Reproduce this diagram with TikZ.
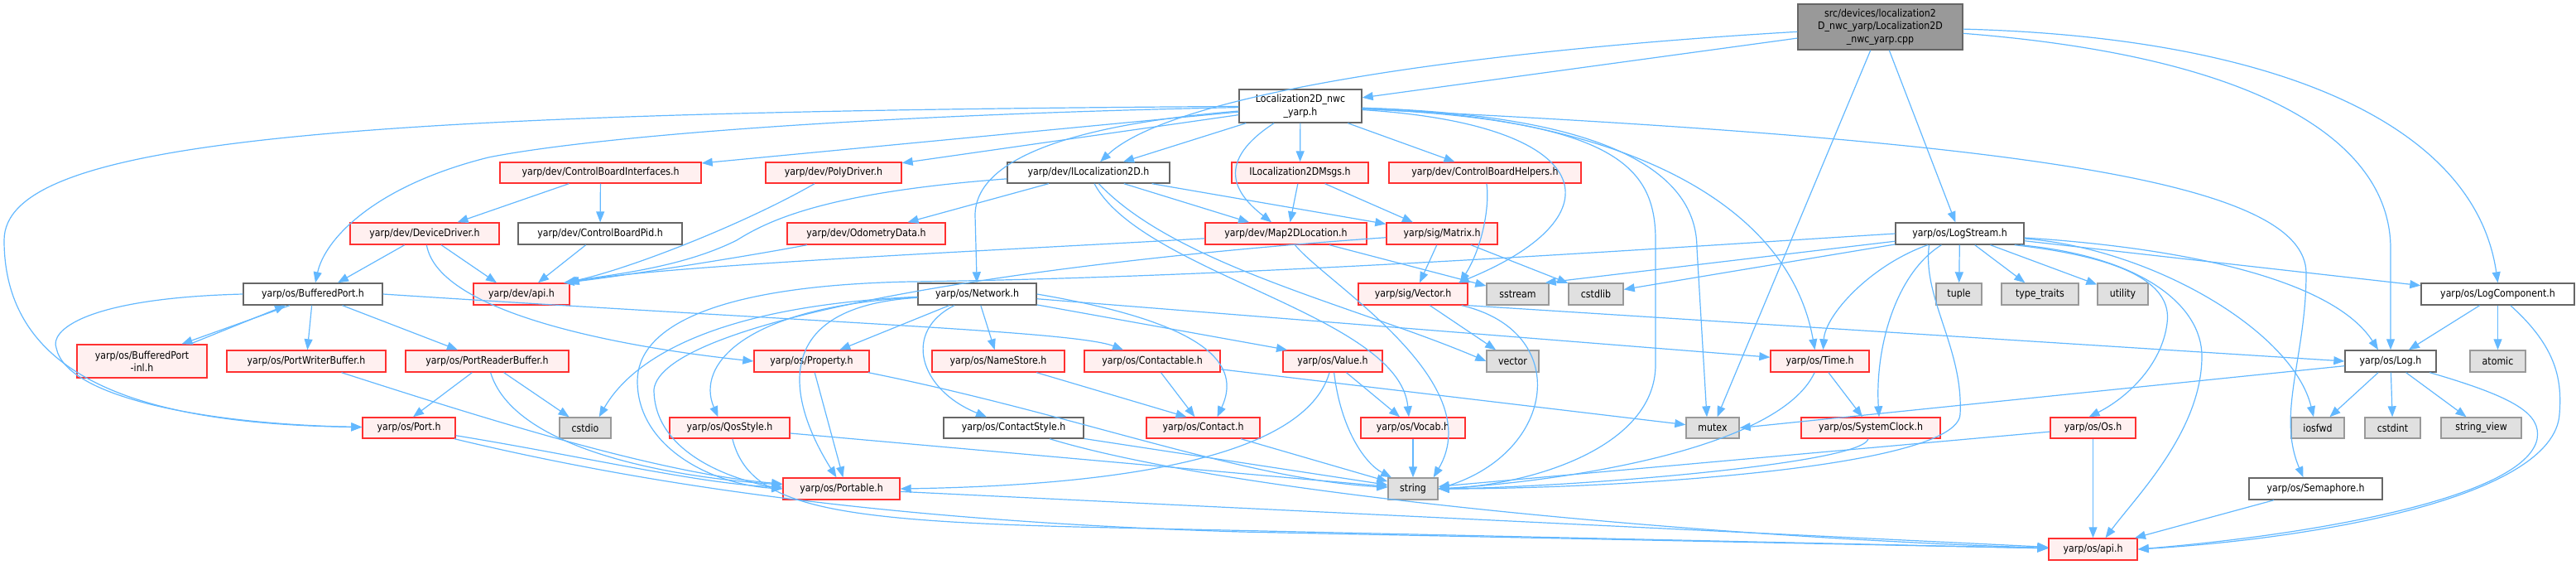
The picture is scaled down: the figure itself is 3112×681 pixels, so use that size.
\documentclass[tikz,border=0pt]{standalone}
\usepackage{fontspec}
\setmainfont{DejaVu Sans}[FakeStretch=0.88]
\usetikzlibrary{arrows.meta}
\definecolor{eblue}{HTML}{63B8FF}
\definecolor{rbord}{HTML}{FF3030}
\definecolor{rfill}{HTML}{FFF0F0}
\definecolor{gbord}{HTML}{999999}
\definecolor{gfill}{HTML}{E0E0E0}
\definecolor{wbord}{HTML}{666666}
\definecolor{mfill}{HTML}{999999}
\tikzset{
 box/.style={rectangle, inner sep=0pt, line width=1.4pt, font=\fontsize{12.5}{15.5}\selectfont, align=center, text=black},
 rbox/.style={box, draw=rbord, fill=rfill},
 wbox/.style={box, draw=wbord, fill=white},
 gbox/.style={box, draw=gbord, fill=gfill},
 mbox/.style={box, draw=wbord, fill=mfill},
 dep/.style={draw=eblue, line width=1.2pt, -{Triangle[length=13pt,width=10pt]}},
}
\newcommand\nd[7]{\node[#1, minimum width={(#4)-(#3)}, minimum height={(#6)-(#5)}] (#2) at ({((#3)+(#4))/2},{((#5)+(#6))/2}) {#7};}
\begin{document}
\begin{tikzpicture}[x=1pt,y=-1pt]
\useasboundingbox (0,0) rectangle (3112,681);
\nd{mbox}{main}{2172}{2371}{5}{60}{src/devices/localization2\\D\_nwc\_yarp/Localization2D\\\_nwc\_yarp.cpp}
\nd{wbox}{L}{1497}{1645}{108}{148}{Localization2D\_nwc\\\_yarp.h}
\nd{rbox}{CBI}{604}{847}{196}{221}{yarp/dev/ControlBoardInterfaces.h}
\nd{rbox}{PD}{925}{1089}{196}{221}{yarp/dev/PolyDriver.h}
\nd{wbox}{IL}{1217}{1413}{196}{221}{yarp/dev/ILocalization2D.h}
\nd{rbox}{IM}{1488}{1653}{196}{221}{ILocalization2DMsgs.h}
\nd{rbox}{CBH}{1678}{1910}{196}{221}{yarp/dev/ControlBoardHelpers.h}
\nd{rbox}{DD}{423}{603}{269}{295}{yarp/dev/DeviceDriver.h}
\nd{wbox}{CBP}{626}{824}{269}{295}{yarp/dev/ControlBoardPid.h}
\nd{rbox}{OD}{951}{1142}{269}{295}{yarp/dev/OdometryData.h}
\nd{rbox}{M2D}{1456}{1651}{269}{295}{yarp/dev/Map2DLocation.h}
\nd{rbox}{MAT}{1675}{1809}{269}{295}{yarp/sig/Matrix.h}
\nd{wbox}{LS}{2290}{2445}{269}{295}{yarp/os/LogStream.h}
\nd{wbox}{BP}{294}{462}{342}{368}{yarp/os/BufferedPort.h}
\nd{rbox}{DAPI}{572}{688}{342}{368}{yarp/dev/api.h}
\nd{wbox}{NET}{1109}{1252}{342}{368}{yarp/os/Network.h}
\nd{rbox}{VEC}{1641}{1773}{342}{368}{yarp/sig/Vector.h}
\nd{gbox}{SST}{1796}{1871}{342}{368}{sstream}
\nd{gbox}{CSTDLIB}{1895}{1961}{342}{368}{cstdlib}
\nd{gbox}{TUPLE}{2339}{2394}{342}{368}{tuple}
\nd{gbox}{TT}{2418}{2511}{342}{368}{type\_traits}
\nd{gbox}{UTIL}{2534}{2595}{342}{368}{utility}
\nd{wbox}{LC}{2925}{3110}{342}{368}{yarp/os/LogComponent.h}
\nd{rbox}{BPI}{93}{250}{416}{456}{yarp/os/BufferedPort\\-inl.h}
\nd{rbox}{PWB}{274}{466}{423}{449}{yarp/os/PortWriterBuffer.h}
\nd{rbox}{PRB}{490}{687}{423}{449}{yarp/os/PortReaderBuffer.h}
\nd{rbox}{PROP}{911}{1050}{423}{449}{yarp/os/Property.h}
\nd{rbox}{NS}{1126}{1286}{423}{449}{yarp/os/NameStore.h}
\nd{rbox}{CT}{1310}{1474}{423}{449}{yarp/os/Contactable.h}
\nd{rbox}{VAL}{1550}{1670}{423}{449}{yarp/os/Value.h}
\nd{gbox}{VECTOR}{1796}{1859}{423}{449}{vector}
\nd{rbox}{TIME}{2139}{2258}{423}{449}{yarp/os/Time.h}
\nd{wbox}{LOG}{2833}{2943}{423}{449}{yarp/os/Log.h}
\nd{gbox}{ATOMIC}{2984}{3051}{423}{449}{atomic}
\nd{rbox}{PORT}{438}{550}{504}{529}{yarp/os/Port.h}
\nd{gbox}{CSTDIO}{676}{738}{504}{529}{cstdio}
\nd{rbox}{QOS}{809}{954}{504}{529}{yarp/os/QosStyle.h}
\nd{wbox}{CS}{1140}{1309}{504}{529}{yarp/os/ContactStyle.h}
\nd{rbox}{CONTACT}{1385}{1522}{504}{529}{yarp/os/Contact.h}
\nd{rbox}{VOCAB}{1644}{1770}{504}{529}{yarp/os/Vocab.h}
\nd{gbox}{MUTEX}{2037}{2101}{504}{529}{mutex}
\nd{rbox}{SC}{2176}{2344}{504}{529}{yarp/os/SystemClock.h}
\nd{rbox}{OS}{2477}{2580}{504}{529}{yarp/os/Os.h}
\nd{gbox}{IOSFWD}{2768}{2832}{504}{529}{iosfwd}
\nd{gbox}{CSTDINT}{2857}{2924}{504}{529}{cstdint}
\nd{gbox}{SV}{2949}{3046}{504}{529}{string\_view}
\nd{rbox}{PORTABLE}{946}{1087}{577}{603}{yarp/os/Portable.h}
\nd{gbox}{STRING}{1677}{1737}{577}{603}{string}
\nd{wbox}{SEM}{2717}{2878}{577}{603}{yarp/os/Semaphore.h}
\nd{rbox}{OSAPI}{2475}{2582}{650}{676}{yarp/os/api.h}
% main
\draw[dep] (main) -- (L);
\draw[dep] (main) .. controls (1800,60) and (1420,110) .. (IL);
\draw[dep] (main) -- (MUTEX);
\draw[dep] (main) -- (LS);
\draw[dep] (main) .. controls (2750,45) and (2990,150) .. (LC.north);
\draw[dep] (main) .. controls (2750,70) and (2888,180) .. (2888,300) -- (LOG);
% L
\draw[dep] (L) -- (CBI);
\draw[dep] (L) -- (PD);
\draw[dep] (L) -- (IL);
\draw[dep] (L) -- (IM);
\draw[dep] (L) -- (CBH);
\draw[dep] (L) .. controls (1460,200) and (1500,240) .. (M2D);
\draw[dep] (L) .. controls (1000,140) and (700,168) .. (590,190) .. controls (450,225) and (392,290) .. ([xshift=3pt]BP.north);
\draw[dep] (L) .. controls (400,135) and (5,170) .. (5,290) .. controls (5,470) and (200,512) .. (PORT);
\draw[dep] (L) .. controls (1300,150) and (1178,190) .. (1178,260) -- (NET);
\draw[dep] (L) .. controls (1930,150) and (1960,260) .. ([xshift=-12pt]VEC.north east);
\draw[dep] (L) .. controls (1950,145) and (2000,200) .. (2000,290) -- (2000,440) .. controls (2000,540) and (1850,585) .. (STRING.east);
\draw[dep] (L) .. controls (1970,140) and (2050,220) .. (2050,300) -- ([xshift=-7pt]MUTEX.north);
\draw[dep] (L) .. controls (1950,140) and (2160,240) .. ([xshift=-6pt]TIME.north);
\draw[dep] (L) .. controls (2450,170) and (2786,220) .. (2786,330) .. controls (2786,430) and (2750,500) .. ([xshift=-15pt]SEM.north);
% IL
\draw[dep] (IL) -- (OD);
\draw[dep] (IL) .. controls (1000,232) and (930,265) .. (890,290) .. controls (820,325) and (730,332) .. ([xshift=-4pt]DAPI.north east);
\draw[dep] (IL) -- (M2D);
\draw[dep] (IL) -- (MAT);
\draw[dep] (IL) .. controls (1420,320) and (1640,370) .. (VECTOR.west);
\draw[dep] (IL) .. controls (1380,330) and (1690,380) .. ([xshift=-5pt]VOCAB.north);
% IM, CBH, CBI, PD
\draw[dep] (IM) -- ([xshift=5pt]M2D.north);
\draw[dep] (IM) -- ([xshift=-35pt]MAT.north);
\draw[dep] (CBH) .. controls (1800,250) and (1790,300) .. ([xshift=-10pt]VEC.north east);
\draw[dep] (CBI) -- (DD);
\draw[dep] (CBI) -- (CBP);
\draw[dep] (PD) .. controls (900,270) and (760,325) .. ([xshift=-6pt]DAPI.north east);
% DD, CBP, OD
\draw[dep] (DD) -- ([xshift=30pt]BP.north);
\draw[dep] (DD) -- ([xshift=-30pt]DAPI.north);
\draw[dep] (DD) .. controls (530,380) and (760,420) .. (PROP.west);
\draw[dep] (CBP) -- ([xshift=20pt]DAPI.north);
\draw[dep] (OD) .. controls (900,310) and (740,335) .. ([xshift=-8pt]DAPI.north east);
% M2D, MAT
\draw[dep] (M2D) .. controls (1250,300) and (800,320) .. ([xshift=-2pt]DAPI.north east);
\draw[dep] (M2D) -- (SST);
\draw[dep] (M2D) .. controls (1600,340) and (1800,460) .. ([xshift=-6pt]STRING.north east);
\draw[dep] (MAT) -- ([xshift=8pt]VEC.north);
\draw[dep] (MAT) -- (CSTDLIB);
\draw[dep] (MAT) .. controls (1200,320) and (800,390) .. (790,470) .. controls (790,545) and (880,578) .. (PORTABLE.west);
% VEC
\draw[dep] (VEC) -- (VECTOR);
\draw[dep] (VEC) .. controls (1900,400) and (1880,545) .. (STRING.east);
\draw[dep] (VEC.south east) -- (LOG.west);
% LS
\draw[dep] (LS) -- ([xshift=-5pt]SST.north east);
\draw[dep] (LS) -- (CSTDLIB);
\draw[dep] (LS) -- (TUPLE);
\draw[dep] (LS) -- (TT);
\draw[dep] (LS) -- (UTIL);
\draw[dep] (LS) -- (LC);
\draw[dep] (LS) .. controls (2650,300) and (2820,340) .. ([xshift=-15pt]LOG.north);
\draw[dep] (LS) .. controls (2600,300) and (2770,400) .. ([xshift=-5pt]IOSFWD.north);
\draw[dep] ([xshift=-5pt]LS.south east) .. controls (2590,310) and (2660,370) .. (2660,430) .. controls (2660,520) and (2580,600) .. ([xshift=15pt]OSAPI.north);
\draw[dep] ([xshift=-12pt]LS.south east) .. controls (2560,310) and (2625,340) .. (2618,390) .. controls (2612,440) and (2570,480) .. ([xshift=-5pt]OS.north);
\draw[dep] (LS) .. controls (2290,330) and (2265,420) .. ([xshift=10pt]SC.north);
\draw[dep] (LS) .. controls (2260,320) and (2205,380) .. ([xshift=4pt]TIME.north);
\draw[dep] ([xshift=-37pt]LS.south) .. controls (2322,360) and (2372,420) .. (2368,500) .. controls (2365,565) and (1950,590) .. (STRING.east);
\draw[dep] (LS.west) .. controls (2000,300) and (1500,335) .. (1100,340) .. controls (850,345) and (770,400) .. (770,460) .. controls (770,540) and (860,585) .. (PORTABLE.west);
% LC, LOG
\draw[dep] (LC) -- (LOG);
\draw[dep] (LC) -- (ATOMIC);
\draw[dep] (LC) .. controls (3090,420) and (3095,460) .. (3092,500) .. controls (3085,600) and (2800,650) .. (OSAPI.east);
\draw[dep] (LOG) -- (IOSFWD);
\draw[dep] (LOG) -- (CSTDINT);
\draw[dep] (LOG) -- (SV);
\draw[dep] (LOG) .. controls (3040,480) and (3070,500) .. (3065,530) .. controls (3050,600) and (2800,645) .. (OSAPI.east);
\draw[dep] (LOG) -- (MUTEX.east);
% SEM, OS, TIME, SC
\draw[dep] (SEM) -- (OSAPI);
\draw[dep] (OS) -- (OSAPI);
\draw[dep] (OS) -- (STRING);
\draw[dep] (TIME) -- (SC);
\draw[dep] (TIME) .. controls (2150,540) and (1900,580) .. (STRING.east);
\draw[dep] (SC) .. controls (2250,560) and (1900,588) .. (STRING.east);
% NET
\draw[dep] (NET) -- (PROP);
\draw[dep] (NET) -- (NS);
\draw[dep] (NET) .. controls (1090,400) and (1110,470) .. (CS);
\draw[dep] (NET.east) .. controls (1460,390) and (1500,440) .. ([xshift=17pt]CONTACT.north);
\draw[dep] (NET) -- ([xshift=-55pt]VAL.north);
\draw[dep] (NET) -- (TIME);
\draw[dep] (NET) .. controls (900,370) and (840,440) .. ([xshift=-14pt]QOS.north);
\draw[dep] (NET) .. controls (930,370) and (950,480) .. ([xshift=-6pt]PORTABLE.north);
\draw[dep] (NET) .. controls (850,370) and (760,440) .. ([xshift=-15pt]CSTDIO.north east);
% PROP, NS, CT, VAL, VOCAB, CONTACT, CS, QOS
\draw[dep] (PROP) -- ([xshift=2pt]PORTABLE.north);
\draw[dep] (PROP) .. controls (1300,500) and (1500,578) .. (STRING);
\draw[dep] (NS) -- ([xshift=-20pt]CONTACT.north);
\draw[dep] (CT) -- (CONTACT);
\draw[dep] (CT) -- (MUTEX);
\draw[dep] (VAL) -- (VOCAB);
\draw[dep] (VAL) .. controls (1620,520) and (1650,560) .. (STRING);
\draw[dep] (VAL) .. controls (1580,540) and (1400,585) .. (PORTABLE.east);
\draw[dep] (VOCAB) -- (STRING);
\draw[dep] (CONTACT) -- (STRING);
\draw[dep] (CS) -- (STRING);
\draw[dep] (CS) .. controls (1500,600) and (2100,650) .. (OSAPI);
\draw[dep] (QOS) -- (STRING);
\draw[dep] (QOS) .. controls (905,610) and (1000,628) .. (1300,636) -- (OSAPI);
% PORTABLE, PORT, PRB, PWB
\draw[dep] (PORTABLE) -- (OSAPI);
\draw[dep] (PORT) .. controls (700,550) and (850,585) .. (PORTABLE);
\draw[dep] (PORT) .. controls (800,590) and (1100,630) .. (1500,642) -- (OSAPI);
\draw[dep] (PRB) -- ([xshift=5pt]PORT.north);
\draw[dep] (PRB) -- (CSTDIO);
\draw[dep] (PRB) .. controls (620,540) and (800,575) .. (PORTABLE);
\draw[dep] (PWB) .. controls (600,510) and (800,572) .. (PORTABLE);
% BP
\draw[dep] ([xshift=-28pt]BP.south) -- ([xshift=48pt]BPI.north);
\draw[dep] ([xshift=58pt]BPI.north) -- ([xshift=-33pt]BP.south);
\draw[dep] (BP) -- (PWB);
\draw[dep] (BP) -- (PRB);
\draw[dep] (BP.west) .. controls (100,360) and (60,400) .. (68,420) .. controls (80,480) and (250,512) .. (PORT);
\draw[dep] (BP.east) .. controls (1000,390) and (1300,400) .. (CT);
\end{tikzpicture}
\end{document}
